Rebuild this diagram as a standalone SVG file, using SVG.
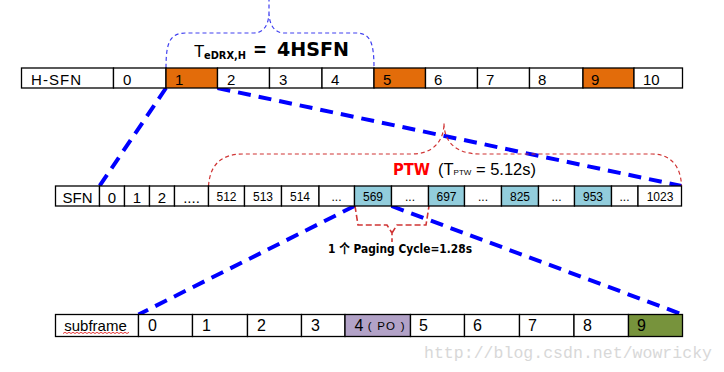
<svg xmlns="http://www.w3.org/2000/svg" width="724" height="372" viewBox="0 0 724 372">
<style>
.cell{fill:#ffffff;stroke:#000000;stroke-width:1.3}
.org{fill:#E36C0A}
.blu{fill:#92CDDC}
.pur{fill:#B2A2C7}
.olv{fill:#77933C}
text{font-family:"Liberation Sans","Noto Sans CJK SC",sans-serif;fill:#000}
.t1{font-size:15px}
.t2{font-size:15px;text-anchor:middle}
.t2s{font-size:12px;text-anchor:middle}
.t3{font-size:16px}
.bold{font-family:"DejaVu Sans","Noto Sans CJK SC",sans-serif;font-weight:bold}
.thick{fill:none;stroke:#0000ff;stroke-width:4;stroke-dasharray:13 8}
.bbrace{fill:none;stroke:#4040f0;stroke-width:1.2;stroke-dasharray:4 3}
.rbrace{fill:none;stroke:#d03535;stroke-width:1.2;stroke-dasharray:4 3}
.rbrace2{fill:none;stroke:#d03535;stroke-width:1.6;stroke-dasharray:6 3}
</style>

<!-- connectors -->
<g id="connectors">
<path class="thick" d="M166,88 L99.5,186"/>
<path class="thick" d="M217.5,88 L681.5,186"/>
<path class="thick" d="M354.5,206 L138.5,314.5"/>
<path class="thick" d="M391.5,206 L682.5,314.5"/>
<path class="bbrace" d="M166,68 C166,42 170,33 186,33 L254,33 C264,33 269,24 269,12 L269,0 M269,12 C269,24 274,33 284,33 L356,33 C370,33 374,42 374,68"/>
<path class="rbrace" d="M208.5,186 C210,164 222,154 243,154 L412,154 C432,154 444,142 444,123 C444,142 456,154 480,154 L652,154 C672,154 681,168 681.5,186"/>
<path class="rbrace2" d="M355,206 L358,225 L387,225 L392,233 L392,242 M392,233 L397,225 L426,225 L429,206"/>
</g>

<!-- labels -->
<g id="label-tedrx">
<text x="194" y="57" font-size="17">T</text>
<text class="bold" x="204" y="58.5" font-size="11" textLength="42" lengthAdjust="spacingAndGlyphs">eDRX,H</text>
<text class="bold" x="253" y="56" font-size="20" textLength="14" lengthAdjust="spacingAndGlyphs">=</text>
<text class="bold" x="277" y="56" font-size="20" textLength="72" lengthAdjust="spacingAndGlyphs">4HSFN</text>
</g>
<g id="label-ptw">
<text class="bold" x="393" y="175" font-size="16" textLength="37" lengthAdjust="spacingAndGlyphs" style="fill:#ff0000">PTW</text>
<text x="438" y="175"><tspan font-size="16.5">(T</tspan><tspan font-size="8">PTW</tspan><tspan font-size="16.5"> = 5.12s)</tspan></text>
</g>
<g id="label-paging">
<text class="bold" x="328" y="253" font-size="13" textLength="144" lengthAdjust="spacingAndGlyphs">1 个 Paging Cycle=1.28s</text>
</g>

<!-- row 1: H-SFN -->
<g id="hsfn-label"><rect class="cell" x="21.5" y="68" width="92" height="20"/><text class="t1" x="31" y="85" textLength="50">H-SFN</text></g>
<g id="hsfn-0"><rect class="cell" x="113.5" y="68" width="52.5" height="20"/><text class="t1" x="123" y="85">0</text></g>
<g id="hsfn-1"><rect class="cell org" x="166" y="68" width="51.5" height="20"/><text class="t1" x="175" y="85">1</text></g>
<g id="hsfn-2"><rect class="cell" x="217.5" y="68" width="52" height="20"/><text class="t1" x="227" y="85">2</text></g>
<g id="hsfn-3"><rect class="cell" x="269.5" y="68" width="52.5" height="20"/><text class="t1" x="279" y="85">3</text></g>
<g id="hsfn-4"><rect class="cell" x="322" y="68" width="52" height="20"/><text class="t1" x="331" y="85">4</text></g>
<g id="hsfn-5"><rect class="cell org" x="374" y="68" width="51.5" height="20"/><text class="t1" x="383" y="85">5</text></g>
<g id="hsfn-6"><rect class="cell" x="425.5" y="68" width="52" height="20"/><text class="t1" x="434" y="85">6</text></g>
<g id="hsfn-7"><rect class="cell" x="477.5" y="68" width="52" height="20"/><text class="t1" x="486" y="85">7</text></g>
<g id="hsfn-8"><rect class="cell" x="529.5" y="68" width="53.5" height="20"/><text class="t1" x="538" y="85">8</text></g>
<g id="hsfn-9"><rect class="cell org" x="583" y="68" width="51" height="20"/><text class="t1" x="591" y="85">9</text></g>
<g id="hsfn-10"><rect class="cell" x="634" y="68" width="48.5" height="20"/><text class="t1" x="643" y="85">10</text></g>

<!-- row 2: SFN -->
<g id="sfn-label"><rect class="cell" x="55.5" y="186" width="44" height="20"/><text class="t2" x="77.5" y="202.5" font-size="14">SFN</text></g>
<g id="sfn-0"><rect class="cell" x="99.5" y="186" width="25" height="20"/><text class="t2" x="112" y="202.5">0</text></g>
<g id="sfn-1"><rect class="cell" x="124.5" y="186" width="25" height="20"/><text class="t2" x="137" y="202.5">1</text></g>
<g id="sfn-2"><rect class="cell" x="149.5" y="186" width="25" height="20"/><text class="t2" x="162" y="202.5">2</text></g>
<g id="sfn-dots1"><rect class="cell" x="174.5" y="186" width="34" height="20"/><text class="t2" x="191.5" y="202.5" font-size="14">....</text></g>
<g id="sfn-512"><rect class="cell" x="208.5" y="186" width="36" height="20"/><text class="t2s" x="226.5" y="200.5">512</text></g>
<g id="sfn-513"><rect class="cell" x="244.5" y="186" width="37" height="20"/><text class="t2s" x="263" y="200.5">513</text></g>
<g id="sfn-514"><rect class="cell" x="281.5" y="186" width="37.5" height="20"/><text class="t2s" x="300" y="200.5">514</text></g>
<g id="sfn-dots2"><rect class="cell" x="319" y="186" width="35.5" height="20"/><text class="t2s" x="336.5" y="200.5">...</text></g>
<g id="sfn-569"><rect class="cell blu" x="354.5" y="186" width="37" height="20"/><text class="t2s" x="373" y="200.5" font-size="13.5">569</text></g>
<g id="sfn-dots3"><rect class="cell" x="391.5" y="186" width="37" height="20"/><text class="t2s" x="410" y="200.5">...</text></g>
<g id="sfn-697"><rect class="cell blu" x="428.5" y="186" width="36" height="20"/><text class="t2s" x="446.5" y="200.5" font-size="13.5">697</text></g>
<g id="sfn-dots4"><rect class="cell" x="464.5" y="186" width="37" height="20"/><text class="t2s" x="483" y="200.5">...</text></g>
<g id="sfn-825"><rect class="cell blu" x="501.5" y="186" width="37" height="20"/><text class="t2s" x="520" y="200.5" font-size="13.5">825</text></g>
<g id="sfn-dots5"><rect class="cell" x="538.5" y="186" width="36" height="20"/><text class="t2s" x="556.5" y="200.5">...</text></g>
<g id="sfn-953"><rect class="cell blu" x="574.5" y="186" width="37" height="20"/><text class="t2s" x="593" y="200.5" font-size="13.5">953</text></g>
<g id="sfn-dots6"><rect class="cell" x="611.5" y="186" width="26.5" height="20"/><text class="t2s" x="624.5" y="200.5">...</text></g>
<g id="sfn-1023"><rect class="cell" x="638" y="186" width="43.5" height="20"/><text class="t2s" x="660" y="200.5" font-size="13.5">1023</text></g>

<!-- row 3: subframe -->
<g id="sub-label"><rect class="cell" x="55.5" y="314.5" width="83" height="22"/><text x="95.5" y="330.5" font-size="15" text-anchor="middle">subframe</text><path d="M63,333.5 l2,-1.2 l2,1.2 l2,-1.2 l2,1.2 l2,-1.2 l2,1.2 l2,-1.2 l2,1.2 l2,-1.2 l2,1.2 l2,-1.2 l2,1.2 l2,-1.2 l2,1.2 l2,-1.2 l2,1.2 l2,-1.2 l2,1.2 l2,-1.2 l2,1.2 l2,-1.2 l2,1.2 l2,-1.2 l2,1.2 l2,-1.2 l2,1.2 l2,-1.2 l2,1.2 l2,-1.2 l2,1.2 l2,-1.2 l2,1.2 l2,-1.2" fill="none" stroke="#e02020" stroke-width="0.9"/></g>
<g id="sub-0"><rect class="cell" x="138.5" y="314.5" width="54" height="22"/><text class="t3" x="148" y="331">0</text></g>
<g id="sub-1"><rect class="cell" x="192.5" y="314.5" width="55" height="22"/><text class="t3" x="202" y="331">1</text></g>
<g id="sub-2"><rect class="cell" x="247.5" y="314.5" width="54" height="22"/><text class="t3" x="257" y="331">2</text></g>
<g id="sub-3"><rect class="cell" x="301.5" y="314.5" width="43.5" height="22"/><text class="t3" x="311" y="331">3</text></g>
<g id="sub-4"><rect class="cell pur" x="345" y="314.5" width="65.5" height="22"/><text x="354.5" y="331"><tspan font-size="16">4</tspan><tspan font-size="11.5" dy="-1" letter-spacing="1.2"> ( PO )</tspan></text></g>
<g id="sub-5"><rect class="cell" x="410.5" y="314.5" width="54" height="22"/><text class="t3" x="419" y="331">5</text></g>
<g id="sub-6"><rect class="cell" x="464.5" y="314.5" width="55" height="22"/><text class="t3" x="473" y="331">6</text></g>
<g id="sub-7"><rect class="cell" x="519.5" y="314.5" width="54.5" height="22"/><text class="t3" x="528" y="331">7</text></g>
<g id="sub-8"><rect class="cell" x="574" y="314.5" width="54.5" height="22"/><text class="t3" x="583" y="331">8</text></g>
<g id="sub-9"><rect class="cell olv" x="628.5" y="314.5" width="54" height="22"/><text class="t3" x="637" y="331">9</text></g>

<g id="watermark">
<text x="424" y="358" font-size="16.5" textLength="288" style="font-family:'Liberation Mono',monospace;fill:#d8d8d8">http://blog.csdn.net/wowricky</text>
</g>
</svg>
